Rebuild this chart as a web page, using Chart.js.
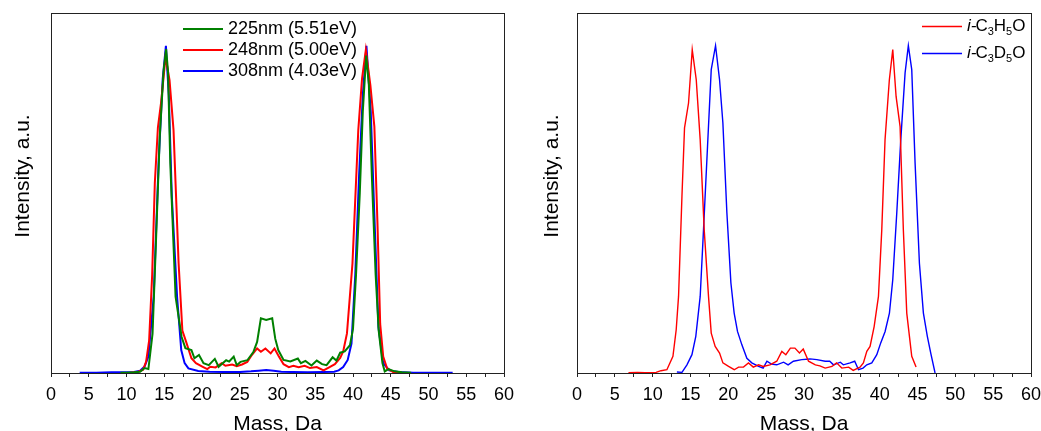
<!DOCTYPE html>
<html>
<head>
<meta charset="utf-8">
<script src="https://cdn.jsdelivr.net/npm/chart.js@4/dist/chart.umd.min.js"></script>
<style>
  body { margin: 0; background: #fff; }
  canvas { position: absolute; top: 0; }
  #wavelengthChart { left: 0; }
  #isotopeChart { left: 521px; }
</style>
</head>
<body>
<canvas id="wavelengthChart" width="520" height="431"></canvas>
<canvas id="isotopeChart" width="520" height="431"></canvas>
<script>
// left panel: photofragment mass spectra at three wavelengths
const mass225 = [9.2, 10, 11, 11.8, 12.4, 12.9, 13.45, 13.9, 14.4, 14.9, 15.25, 15.5, 15.8, 16.5, 17.3, 17.8, 18.6, 19.0, 19.6, 20.2, 20.9, 21.7, 22.2, 23.2, 23.6, 24.2, 24.6, 25.1, 26.0, 26.8, 27.3, 27.8, 28.5, 29.3, 29.7, 30.1, 30.8, 31.7, 32.7, 33.1, 33.7, 34.5, 35.2, 35.9, 36.5, 37.3, 37.8, 38.3, 38.9, 39.6, 40.0, 40.4, 40.9, 41.3, 41.75, 42.1, 42.5, 43.0, 43.4, 43.9, 44.2, 44.7, 45.5, 46.5, 47.7];
const int225 = [0.001, 0.001, 0.002, 0.004, 0.015, 0.012, 0.12, 0.4, 0.72, 0.92, 0.99, 0.92, 0.64, 0.233, 0.11, 0.076, 0.07, 0.045, 0.055, 0.03, 0.024, 0.043, 0.019, 0.039, 0.035, 0.05, 0.024, 0.034, 0.039, 0.064, 0.095, 0.167, 0.162, 0.167, 0.105, 0.07, 0.04, 0.035, 0.044, 0.03, 0.037, 0.023, 0.038, 0.027, 0.024, 0.048, 0.038, 0.062, 0.066, 0.085, 0.135, 0.3, 0.55, 0.8, 0.97, 0.88, 0.6, 0.3, 0.13, 0.03, 0.005, 0.012, 0.005, 0.002, 0.001];

const mass248 = [10.5, 11.5, 12.2, 12.6, 13.0, 13.4, 13.75, 14.16, 14.6, 15.17, 15.7, 16.23, 16.9, 17.4, 17.9, 18.6, 19.2, 20.1, 20.7, 21.1, 21.8, 22.6, 23.1, 24.0, 24.6, 25.3, 26.0, 26.6, 27.3, 27.8, 28.4, 29.1, 29.6, 30.2, 30.8, 31.5, 32.1, 32.8, 33.6, 34.3, 35.2, 36.1, 36.9, 37.6, 38.3, 38.7, 39.2, 39.93, 40.7, 41.2, 41.7, 42.3, 42.83, 43.25, 43.6, 44.0, 44.5, 45.3, 46.3];
const int248 = [0.001, 0.003, 0.01, 0.035, 0.1, 0.3, 0.58, 0.75, 0.83, 0.966, 0.895, 0.742, 0.336, 0.13, 0.095, 0.045, 0.03, 0.019, 0.012, 0.019, 0.017, 0.03, 0.022, 0.026, 0.021, 0.026, 0.034, 0.055, 0.075, 0.065, 0.075, 0.06, 0.075, 0.05, 0.027, 0.018, 0.022, 0.018, 0.022, 0.015, 0.018, 0.008, 0.018, 0.027, 0.046, 0.066, 0.121, 0.335, 0.742, 0.9, 0.987, 0.88, 0.753, 0.45, 0.15, 0.05, 0.015, 0.003, 0.001];

const mass308 = [3.8, 6, 8, 10, 11, 11.8, 12.4, 12.9, 13.6, 14.25, 14.8, 15.22, 15.6, 16.0, 16.7, 17.25, 17.7, 18.2, 19.5, 21, 23, 25, 26.5, 27.5, 28.5, 29.5, 30.5, 32, 34, 36, 37.5, 38.1, 38.7, 39.3, 39.8, 40.3, 40.8, 41.3, 41.78, 42.35, 42.8, 43.37, 44.0, 44.8, 46, 48, 50, 53.2];
const int308 = [0.001, 0.001, 0.002, 0.002, 0.003, 0.007, 0.02, 0.05, 0.233, 0.64, 0.9, 1.0, 0.85, 0.54, 0.233, 0.07, 0.03, 0.014, 0.006, 0.004, 0.003, 0.003, 0.005, 0.007, 0.009, 0.007, 0.004, 0.003, 0.002, 0.003, 0.004, 0.008, 0.018, 0.04, 0.09, 0.3, 0.6, 0.85, 1.0, 0.8, 0.5, 0.14, 0.03, 0.008, 0.003, 0.001, 0.001, 0.001];

// right panel: i-C3H5O vs i-C3D5O
const massH = [6.8, 8, 9, 10.45, 11.1, 11.88, 12.68, 13.11, 13.42, 13.87, 14.21, 14.74, 15.23, 15.76, 16.28, 16.81, 17.38, 17.74, 18.26, 18.84, 19.28, 20.03, 20.78, 21.35, 22.0, 22.66, 23.3, 24.0, 24.6, 25.5, 26.4, 27.07, 27.6, 28.2, 28.8, 29.4, 29.9, 30.6, 31.5, 32.1, 32.8, 33.7, 34.3, 35.0, 35.9, 36.5, 37.4, 37.85, 38.3, 38.73, 39.27, 39.84, 40.28, 40.71, 41.28, 41.73, 42.17, 42.7, 43.13, 43.58, 44.24, 44.81];
const intH = [0.001, 0.002, 0.001, 0.002, 0.007, 0.01, 0.051, 0.132, 0.234, 0.54, 0.749, 0.825, 0.988, 0.896, 0.713, 0.438, 0.234, 0.122, 0.081, 0.061, 0.031, 0.02, 0.01, 0.018, 0.018, 0.031, 0.018, 0.025, 0.02, 0.025, 0.036, 0.066, 0.056, 0.076, 0.076, 0.061, 0.073, 0.036, 0.025, 0.022, 0.015, 0.02, 0.031, 0.015, 0.018, 0.008, 0.018, 0.031, 0.066, 0.081, 0.142, 0.234, 0.438, 0.713, 0.896, 0.988, 0.845, 0.753, 0.438, 0.183, 0.051, 0.018];

const massD = [13.2, 13.87, 14.53, 15.19, 15.7, 16.28, 16.72, 17.25, 17.74, 18.31, 18.84, 19.28, 19.81, 20.34, 20.77, 21.21, 21.79, 22.45, 23.1, 24.0, 24.6, 25.1, 25.7, 26.4, 27.3, 27.9, 28.6, 29.7, 30.8, 31.7, 32.8, 33.4, 33.9, 34.8, 35.2, 36.1, 36.7, 37.2, 37.8, 38.3, 38.96, 39.62, 40.14, 40.72, 41.29, 41.73, 42.26, 42.79, 43.36, 43.79, 44.24, 44.68, 45.25, 45.78, 46.3, 46.75, 47.32];
const intD = [0.003, 0.002, 0.025, 0.056, 0.112, 0.234, 0.438, 0.692, 0.927, 1.0, 0.896, 0.764, 0.489, 0.275, 0.183, 0.127, 0.086, 0.045, 0.031, 0.02, 0.015, 0.036, 0.027, 0.025, 0.033, 0.025, 0.036, 0.041, 0.043, 0.041, 0.036, 0.036, 0.025, 0.033, 0.025, 0.031, 0.036, 0.01, 0.015, 0.025, 0.031, 0.056, 0.092, 0.127, 0.183, 0.285, 0.489, 0.713, 0.917, 1.0, 0.927, 0.642, 0.336, 0.183, 0.112, 0.061, 0.0];

const waveLabels = ['225nm (5.51eV)', '248nm (5.00eV)', '308nm (4.03eV)'];
const isoLabels = [
  [['i-', 'it'], ['C'], ['3', 'sub'], ['H'], ['5', 'sub'], ['O']],
  [['i-', 'it'], ['C'], ['3', 'sub'], ['D'], ['5', 'sub'], ['O']]
];

const FONT = '"Liberation Sans", Arial, sans-serif';
Chart.defaults.font.family = FONT;
Chart.defaults.color = '#000';

function pts(xs, ys) {
  return xs.map((x, i) => ({ x: x, y: ys[i] }));
}

function line(data, color, width) {
  return { data: data, borderColor: color, borderWidth: width, pointRadius: 0, tension: 0, fill: false };
}

function scales(yWidth) {
  return {
    x: {
      type: 'linear', min: 0, max: 60,
      afterFit: (s) => { s.height = 58; s.paddingLeft = 0; s.paddingRight = 0; },
      ticks: {
        stepSize: 2.5, autoSkip: false, maxRotation: 0, padding: 7,
        font: { size: 18 },
        callback: (v) => (v % 5 === 0 ? v : '')
      },
      grid: { drawOnChartArea: false, tickLength: 4, color: '#222' },
      border: { display: false }
    },
    y: {
      min: 0, max: 1.1,
      afterFit: (s) => { s.width = yWidth; },
      ticks: { display: false },
      grid: { display: false },
      border: { display: false }
    }
  };
}

// frame, axis titles and the legend with subscripts
const decor = {
  id: 'decor',
  afterDraw(chart, args, o) {
    const ctx = chart.ctx;
    const a = chart.chartArea;
    ctx.save();
    ctx.strokeStyle = '#222';
    ctx.lineWidth = 1;
    ctx.strokeRect(Math.round(a.left) + 0.5, Math.round(a.top) + 0.5, Math.round(a.right - a.left), Math.round(a.bottom - a.top));

    ctx.fillStyle = '#000';
    ctx.font = '21px ' + FONT;
    ctx.textAlign = 'center';
    ctx.textBaseline = 'alphabetic';
    ctx.fillText('Mass, Da', (a.left + a.right) / 2, 429.5);
    ctx.save();
    ctx.translate(o.yTitleX, 176);
    ctx.rotate(-Math.PI / 2);
    ctx.textBaseline = 'middle';
    ctx.fillText('Intensity, a.u.', 0, 0);
    ctx.restore();

    ctx.textAlign = 'left';
    ctx.textBaseline = 'middle';
    chart.data.datasets.forEach((ds, i) => {
      const y = o.rows[i];
      ctx.strokeStyle = ds.borderColor;
      ctx.lineWidth = ds.borderWidth;
      ctx.beginPath();
      ctx.moveTo(o.lineX, y);
      ctx.lineTo(o.lineX + 40, y);
      ctx.stroke();
      let x = o.lineX + 45;
      const parts = typeof o.labels[i] === 'string' ? [[o.labels[i]]] : o.labels[i];
      parts.forEach(([t, kind]) => {
        let dy = 0;
        if (kind === 'sub') { ctx.font = '11px ' + FONT; dy = 5; }
        else if (kind === 'it') { ctx.font = 'italic ' + o.size + 'px ' + FONT; }
        else { ctx.font = o.size + 'px ' + FONT; }
        ctx.fillText(t, x, y + dy);
        x += ctx.measureText(t).width - (kind === 'it' ? 1 : 0);
      });
    });
    ctx.restore();
  }
};

new Chart(document.getElementById('wavelengthChart'), {
  type: 'line',
  data: {
    datasets: [
      line(pts(mass225, int225), 'rgb(0, 128, 0)', 2),
      line(pts(mass248, int248), 'rgb(255, 0, 0)', 2),
      line(pts(mass308, int308), 'rgb(0, 0, 255)', 2)
    ]
  },
  options: {
    responsive: false,
    animation: false,
    layout: { padding: { top: 13, right: 16, left: 0, bottom: 0 } },
    scales: scales(51),
    plugins: {
      legend: { display: false },
      tooltip: { enabled: false },
      decor: { yTitleX: 23, lineX: 183, rows: [29, 50, 71], labels: waveLabels, size: 18 }
    }
  },
  plugins: [decor]
});

new Chart(document.getElementById('isotopeChart'), {
  type: 'line',
  data: {
    datasets: [
      line(pts(massH, intH), 'rgb(255, 0, 0)', 1.4),
      line(pts(massD, intD), 'rgb(0, 0, 255)', 1.4)
    ]
  },
  options: {
    responsive: false,
    animation: false,
    layout: { padding: { top: 13, right: 10, left: 0, bottom: 0 } },
    scales: scales(56),
    plugins: {
      legend: { display: false },
      tooltip: { enabled: false },
      decor: { yTitleX: 31, lineX: 401, rows: [26.5, 53.5], labels: isoLabels, size: 17 }
    }
  },
  plugins: [decor]
});
</script>
</body>
</html>
